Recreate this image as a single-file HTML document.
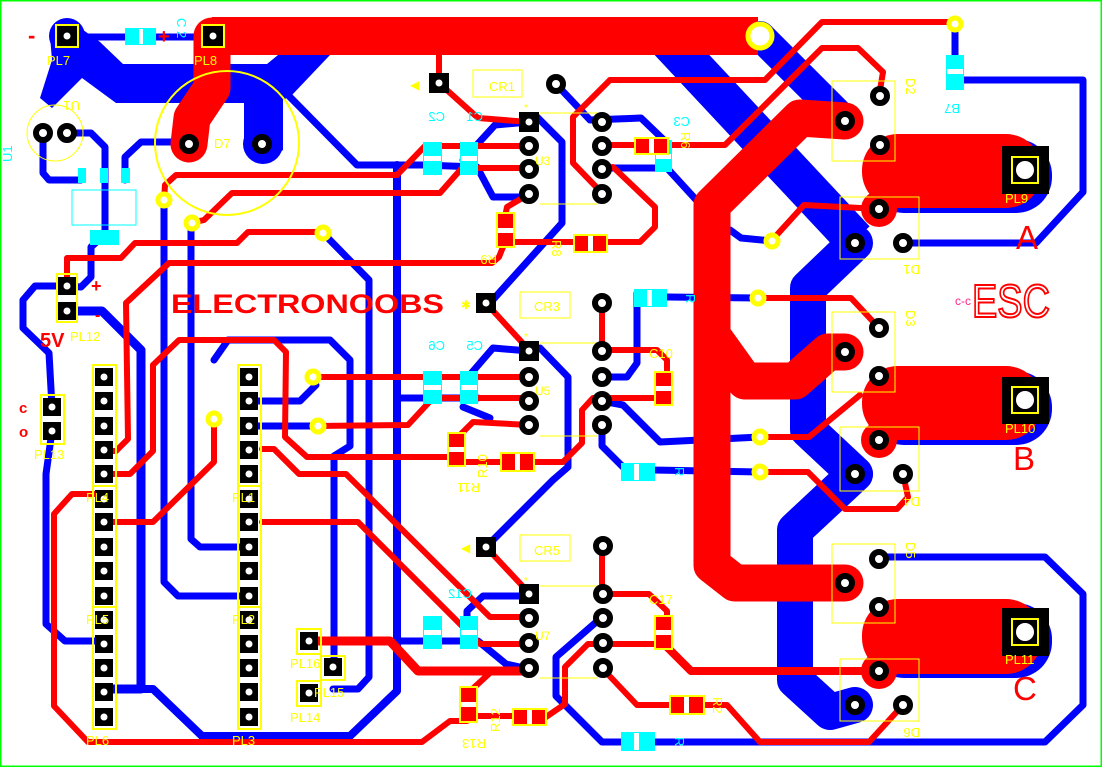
<!DOCTYPE html>
<html><head><meta charset="utf-8"><style>
html,body{margin:0;padding:0;background:#fff;}
svg{display:block;}
text{font-family:"Liberation Sans",sans-serif;}
</style></head><body>
<svg width="1102" height="767" viewBox="0 0 1102 767" xmlns="http://www.w3.org/2000/svg">
<defs>
<g id="rp"><circle r="7" fill="#fff" stroke="#000" stroke-width="6"/><circle r="3.5" fill="#fff"/></g>
<g id="sp"><rect x="-10" y="-10" width="20" height="20" fill="#000"/><circle r="3.5" fill="#fff"/></g>
<g id="hp"><rect x="-9" y="-9" width="18" height="18" fill="#000"/><circle r="3.5" fill="#fff"/></g>
</defs>
<rect x="0" y="0" width="1102" height="767" fill="#fff"/>
<rect x="0.5" y="0.5" width="1101" height="766" fill="none" stroke="#00ff00" stroke-width="2"/>

<!-- ===== BLUE LAYER ===== -->
<g fill="none" stroke="#0000ff" stroke-linejoin="round" stroke-linecap="round">
 <polyline points="668,40 855,240" stroke-width="40" stroke-linecap="butt"/>
 <polyline points="760,36 845,121" stroke-width="30"/>
 <polyline points="855,243 808,288 808,430 855,474" stroke-width="36"/>
 <polyline points="855,474 795,530 795,680 830,712 855,705" stroke-width="36"/>
 <rect x="868" y="139" width="184" height="74" rx="36" fill="#0000ff" stroke="none"/>
 <rect x="868" y="371" width="184" height="74" rx="36" fill="#0000ff" stroke="none"/>
 <rect x="868" y="603" width="184" height="75" rx="36" fill="#0000ff" stroke="none"/>
 <g stroke-width="7">
 <polyline points="67,37 213,37"/>
 <polyline points="288,95 357,165 423,165 477,167 493,197 529,197"/>
 <polyline points="397,165 397,691 350,736 202,736 153,689 104,689" stroke-width="8"/>
 <polyline points="323,233 369,280 369,677 358,689 333,689"/>
 <polyline points="214,360 228,340 330,340 350,360 350,446 334,456 334,667"/>
 <polyline points="191,223 191,539 200,547 249,547"/>
 <polyline points="164,200 164,582 178,596 249,596"/>
 <polyline points="52,431 46,474 46,624 65,641 104,641"/>
 <polyline points="67,311 102,311 141,350 141,689 104,689" stroke-width="9"/>
 <polyline points="67,286 35,286 23,300 23,328 49,353 52,407"/>
 <polyline points="67,286 81,287 91,277 91,247 102,237"/>
 <polyline points="43,133 43,173 49,180 81,180"/>
 <polyline points="67,133 91,133 105,147 105,233"/>
 <polyline points="125,180 125,157 141,142 190,142"/>
 <polyline points="556,84 590,120 641,118 667,143"/>
 <polyline points="602,168 667,168 699,203"/>
 <polyline points="730,230 741,238 772,241"/>
 <polyline points="529,122 537,117 562,142 562,223 490,303"/>
 <polyline points="529,122 495,125 463,160"/>
 <polyline points="529,351 493,348 468,377 468,398"/>
 <polyline points="399,398 478,398"/>
 <polyline points="463,407 490,418"/>
 <polyline points="540,348 568,377 568,467 553,480 486,547"/>
 <polyline points="667,297 758,298"/>
 <polyline points="637,293 637,363 627,377 602,377"/>
 <polyline points="602,401 623,405 660,442 760,437"/>
 <polyline points="602,426 602,446 623,467 653,470 760,472"/>
 <polyline points="529,596 483,596 467,611 467,624"/>
 <polyline points="397,641 478,641 506,664 529,669"/>
 <polyline points="602,617 556,657 556,696 602,742 1045,742 1083,705 1083,594 1045,557 879,557"/>
 <polyline points="955,24 955,80 1083,80 1083,192 1036,243 903,243"/>
 <polyline points="258,401 300,401 316,385"/>
 <polyline points="258,426 316,426"/>
 </g>
</g>
<polygon points="72,22 100,42 123,64 267,64 278,55 330,55 292,95 283,100 283,150 262,164 244,150 244,103 116,103 82,78 52,108 40,98 52,60 50,36" fill="#0000ff"/>
<circle cx="67" cy="36" r="18" fill="#0000ff"/>
<circle cx="263" cy="144" r="20" fill="#0000ff"/>

<!-- ===== RED LAYER ===== -->
<g fill="none" stroke="#ff0000" stroke-linejoin="round" stroke-linecap="round">
 <polyline points="212,36 758,36" stroke-width="38" stroke-linecap="butt"/>
 <polyline points="212,36 212,88 192,118 189,144" stroke-width="37"/>
 <polyline points="845,121 800,118 712,205 712,565 735,583 845,583" stroke-width="37"/>
 <polyline points="712,335 745,381 795,381 828,352 845,352" stroke-width="37"/>
 <rect x="862" y="134" width="180" height="74" rx="36" fill="#ff0000" stroke="none"/>
 <rect x="862" y="366" width="180" height="74" rx="36" fill="#ff0000" stroke="none"/>
 <rect x="862" y="599" width="180" height="75" rx="36" fill="#ff0000" stroke="none"/>
 <circle cx="879" cy="209" r="18" fill="#ff0000" stroke="none"/>
 <circle cx="879" cy="440" r="18" fill="#ff0000" stroke="none"/>
 <circle cx="879" cy="671" r="18" fill="#ff0000" stroke="none"/>
 <g stroke-width="6">
 <polyline points="439,55 439,83 478,118 529,122"/>
 <polyline points="529,146 425,146 397,175 176,175 165,185 164,200"/>
 <polyline points="529,168 462,168 440,193 232,193 204,220 191,223"/>
 <polyline points="529,194 507,207 505,217"/>
 <polyline points="505,242 499,257 492,263 169,263 126,303 128,439 116,451 104,451"/>
 <polyline points="505,242 574,242"/>
 <polyline points="607,242 640,242 655,227 655,207 613,167 602,169"/>
 <polyline points="602,145 725,145 822,48 858,48 883,72 879,96"/>
 <polyline points="610,80 680,80 765,80 822,22 955,22"/>
 <polyline points="610,80 573,117 573,163 602,193"/>
 <polyline points="879,209 804,205 774,238"/>
 <polyline points="758,298 851,298 879,328"/>
 <polyline points="602,303 602,350 657,350 667,360 667,372"/>
 <polyline points="602,398 657,398"/>
 <polyline points="602,398 593,398 582,410 582,443 563,462 535,462"/>
 <polyline points="769,437 809,437 860,395"/>
 <polyline points="769,472 808,472 845,509 897,509 908,497 903,474"/>
 <polyline points="602,546 602,594 649,594 667,611 667,617"/>
 <polyline points="667,647 691,671 879,671" stroke-width="8"/>
 <polyline points="602,644 655,644"/>
 <polyline points="602,644 588,644 565,667 565,704 546,717"/>
 <polyline points="602,668 637,705 670,705"/>
 <polyline points="704,705 727,705 760,742 869,742 903,705"/>
 <polyline points="67,286 67,258 121,258 135,243 237,243 248,232 323,232"/>
 <polyline points="153,365 179,340 274,340 286,352 285,437 307,457 448,457"/>
 <polyline points="153,365 153,451 130,474 104,474"/>
 <polyline points="465,462 501,462"/>
 <polyline points="262,449 274,449 299,474 346,474 490,617 529,617"/>
 <polyline points="262,522 358,522 480,644 529,644"/>
 <polyline points="104,522 153,522 214,462 214,419"/>
 <polyline points="316,426 408,425 433,398 529,398"/>
 <polyline points="529,425 473,422 460,435"/>
 <polyline points="313,377 529,377"/>
 <polyline points="309,641 390,641 418,671 529,671" stroke-width="9"/>
 <polyline points="529,671 492,671 467,694"/>
 <polyline points="477,716 513,716"/>
 <polyline points="467,721 450,721 422,742 88,742 54,706 54,514 72,494 104,494"/>
 <polyline points="486,303 529,350"/>
 <polyline points="486,547 529,593"/>
 </g>
</g>

<!-- ===== SMD parts ===== -->
<g fill="#00ffff">
 <rect x="125" y="28" width="31" height="17"/><rect x="946" y="55" width="18" height="35"/>
 <rect x="634" y="289" width="33" height="18"/><rect x="621" y="463" width="34" height="18"/><rect x="621" y="732" width="34" height="19"/>
 <rect x="423" y="142" width="19" height="33"/><rect x="460" y="142" width="18" height="33"/>
 <rect x="423" y="371" width="19" height="33"/><rect x="460" y="371" width="18" height="33"/>
 <rect x="423" y="616" width="19" height="33"/><rect x="460" y="616" width="18" height="33"/>
 <rect x="655" y="140" width="17" height="32"/>
 <rect x="90" y="230" width="29" height="15"/>
 <rect x="78" y="168" width="8" height="15"/><rect x="100" y="168" width="8" height="15"/><rect x="121" y="168" width="9" height="15"/>
</g>
<g fill="#fff">
 <rect x="139" y="29" width="4" height="15"/><rect x="947" y="69" width="16" height="5"/>
 <rect x="647" y="290" width="5" height="16"/><rect x="634" y="464" width="5" height="16"/><rect x="634" y="733" width="5" height="17"/>
 <rect x="424" y="156" width="17" height="5"/><rect x="461" y="156" width="16" height="5"/>
 <rect x="424" y="385" width="17" height="5"/><rect x="461" y="385" width="16" height="5"/>
 <rect x="424" y="630" width="17" height="5"/><rect x="461" y="630" width="16" height="5"/>
 <rect x="656" y="154" width="15" height="5"/>
</g>
<rect x="72" y="190" width="64" height="35" fill="none" stroke="#00ffff" stroke-width="1"/>
<g stroke="#ffff00" stroke-width="2" fill="#ff0000">
 <rect x="497" y="213" width="17" height="34"/><rect x="574" y="235" width="33" height="17"/>
 <rect x="635" y="138" width="33" height="16"/><rect x="655" y="372" width="17" height="33"/>
 <rect x="448" y="433" width="17" height="33"/><rect x="501" y="453" width="33" height="18"/>
 <rect x="655" y="616" width="17" height="33"/><rect x="460" y="687" width="17" height="35"/>
 <rect x="513" y="709" width="33" height="16"/><rect x="670" y="696" width="34" height="18"/>
</g>
<g fill="#fff">
 <rect x="498" y="228" width="15" height="5"/><rect x="588" y="236" width="5" height="15"/>
 <rect x="649" y="139" width="5" height="14"/><rect x="656" y="386" width="15" height="5"/>
 <rect x="449" y="447" width="15" height="5"/><rect x="515" y="454" width="5" height="16"/>
 <rect x="656" y="630" width="15" height="5"/><rect x="461" y="702" width="15" height="5"/>
 <rect x="527" y="710" width="5" height="14"/><rect x="684" y="697" width="5" height="16"/>
</g>

<!-- ===== SILKSCREEN ===== -->
<g fill="none" stroke="#ffff00">
 <circle cx="227" cy="143" r="72" stroke-width="2"/>
 <circle cx="55" cy="133" r="28" stroke-width="1"/>
 <rect x="832" y="81" width="63" height="80" stroke-width="1"/>
 <rect x="840" y="197" width="79" height="62" stroke-width="1"/>
 <rect x="832" y="312" width="63" height="80" stroke-width="1"/>
 <rect x="840" y="427" width="79" height="64" stroke-width="1"/>
 <rect x="832" y="544" width="63" height="79" stroke-width="1"/>
 <rect x="840" y="659" width="79" height="62" stroke-width="1"/>
 <rect x="473" y="70" width="49" height="27" stroke-width="1"/>
 <rect x="520" y="292" width="50" height="26" stroke-width="1"/>
 <rect x="520" y="535" width="50" height="26" stroke-width="1"/>
 <path d="M540 113H598M540 204H598M540 343H598M540 436H598M540 586H598M540 678H598" stroke-width="1"/>
 <rect x="57" y="274" width="20" height="48" stroke-width="2"/>
 <rect x="41" y="395" width="23" height="49" stroke-width="2"/>
 <rect x="93" y="365" width="23" height="121" stroke-width="2"/>
 <rect x="93" y="486" width="23" height="121" stroke-width="2"/>
 <rect x="93" y="607" width="23" height="122" stroke-width="2"/>
 <rect x="238" y="365" width="23" height="121" stroke-width="2"/>
 <rect x="238" y="486" width="23" height="121" stroke-width="2"/>
 <rect x="238" y="607" width="23" height="122" stroke-width="2"/>
 <rect x="297" y="629" width="24" height="25" stroke-width="2"/>
 <rect x="321" y="656" width="24" height="24" stroke-width="2"/>
 <rect x="297" y="681" width="24" height="25" stroke-width="2"/>
</g>
<g fill="#fff" stroke="#ffff00" stroke-width="5">
 <circle cx="760" cy="36" r="12"/>
 <circle cx="955" cy="24" r="6"/>
 <circle cx="164" cy="200" r="6"/><circle cx="192" cy="223" r="6"/><circle cx="323" cy="233" r="6"/>
 <circle cx="214" cy="419" r="6"/><circle cx="313" cy="377" r="6"/><circle cx="318" cy="426" r="6"/>
 <circle cx="772" cy="241" r="6"/><circle cx="758" cy="298" r="6"/><circle cx="760" cy="437" r="6"/><circle cx="760" cy="472" r="6"/>
</g>

<!-- ===== PADS ===== -->
<use href="#sp" x="67" y="36"/><use href="#sp" x="213" y="36"/>
<rect x="56" y="25" width="22" height="22" fill="none" stroke="#ffff00" stroke-width="2"/>
<rect x="202" y="25" width="22" height="22" fill="none" stroke="#ffff00" stroke-width="2"/>
<use href="#rp" x="189" y="144"/><use href="#rp" x="262" y="144"/>
<use href="#rp" x="43" y="133"/><use href="#rp" x="67" y="133"/>
<use href="#sp" x="439" y="83"/><use href="#sp" x="486" y="303"/><use href="#sp" x="486" y="547"/>
<use href="#sp" x="529" y="122"/><use href="#rp" x="529" y="146"/><use href="#rp" x="529" y="169"/><use href="#rp" x="529" y="194"/>
<use href="#rp" x="556" y="84"/>
<use href="#rp" x="602" y="122"/><use href="#rp" x="602" y="146"/><use href="#rp" x="602" y="169"/><use href="#rp" x="602" y="194"/>
<use href="#rp" x="602" y="303"/>
<use href="#sp" x="529" y="351"/><use href="#rp" x="529" y="377"/><use href="#rp" x="529" y="401"/><use href="#rp" x="529" y="425"/>
<use href="#rp" x="602" y="351"/><use href="#rp" x="602" y="377"/><use href="#rp" x="602" y="401"/><use href="#rp" x="602" y="425"/>
<use href="#rp" x="603" y="546"/>
<use href="#sp" x="529" y="594"/><use href="#rp" x="529" y="618"/><use href="#rp" x="529" y="643"/><use href="#rp" x="529" y="668"/>
<use href="#rp" x="603" y="594"/><use href="#rp" x="603" y="618"/><use href="#rp" x="603" y="643"/><use href="#rp" x="603" y="668"/>
<use href="#rp" x="845" y="121"/><use href="#rp" x="880" y="96"/><use href="#rp" x="880" y="145"/>
<use href="#rp" x="879" y="209"/><use href="#rp" x="855" y="243"/><use href="#rp" x="903" y="243"/>
<use href="#rp" x="879" y="328"/><use href="#rp" x="845" y="352"/><use href="#rp" x="879" y="376"/>
<use href="#rp" x="879" y="440"/><use href="#rp" x="855" y="474"/><use href="#rp" x="903" y="474"/>
<use href="#rp" x="879" y="559"/><use href="#rp" x="845" y="583"/><use href="#rp" x="879" y="607"/>
<use href="#rp" x="879" y="671"/><use href="#rp" x="855" y="705"/><use href="#rp" x="903" y="705"/>
<use href="#hp" x="67" y="286"/><use href="#hp" x="67" y="311"/>
<use href="#hp" x="52" y="407"/><use href="#hp" x="52" y="431"/>
<use href="#hp" x="309" y="641"/><use href="#hp" x="333" y="667"/><use href="#hp" x="309" y="693"/>
<g>
<use href="#hp" x="104" y="377"/><use href="#hp" x="104" y="401"/><use href="#hp" x="104" y="426"/><use href="#hp" x="104" y="450"/><use href="#hp" x="104" y="474"/>
<use href="#hp" x="104" y="499"/><use href="#hp" x="104" y="522"/><use href="#hp" x="104" y="547"/><use href="#hp" x="104" y="571"/><use href="#hp" x="104" y="596"/>
<use href="#hp" x="104" y="620"/><use href="#hp" x="104" y="644"/><use href="#hp" x="104" y="668"/><use href="#hp" x="104" y="692"/><use href="#hp" x="104" y="717"/>
<use href="#hp" x="249" y="377"/><use href="#hp" x="249" y="401"/><use href="#hp" x="249" y="426"/><use href="#hp" x="249" y="450"/><use href="#hp" x="249" y="474"/>
<use href="#hp" x="249" y="499"/><use href="#hp" x="249" y="522"/><use href="#hp" x="249" y="547"/><use href="#hp" x="249" y="571"/><use href="#hp" x="249" y="596"/>
<use href="#hp" x="249" y="620"/><use href="#hp" x="249" y="644"/><use href="#hp" x="249" y="668"/><use href="#hp" x="249" y="692"/><use href="#hp" x="249" y="717"/>
</g>
<g>
 <rect x="1002" y="146" width="47" height="48" fill="#000"/><rect x="1012" y="157" width="26" height="26" fill="none" stroke="#ffff00" stroke-width="2"/><circle cx="1025" cy="170" r="9" fill="#fff"/>
 <rect x="1002" y="377" width="47" height="47" fill="#000"/><rect x="1012" y="387" width="26" height="26" fill="none" stroke="#ffff00" stroke-width="2"/><circle cx="1025" cy="400" r="9" fill="#fff"/>
 <rect x="1002" y="608" width="47" height="48" fill="#000"/><rect x="1012" y="619" width="26" height="26" fill="none" stroke="#ffff00" stroke-width="2"/><circle cx="1025" cy="632" r="9" fill="#fff"/>
</g>

<!-- ===== TEXT ===== -->
<g fill="#ffff00" font-size="13">
 <text x="47" y="65">PL7</text><text x="194" y="65">PL8</text>
 <text x="214" y="148">D7</text>
 <text x="489" y="91">CR1</text><text x="534" y="311">CR3</text><text x="534" y="555">CR5</text>
 <text x="535" y="165" font-size="12">U3</text><text x="535" y="395" font-size="12">U5</text><text x="535" y="640" font-size="12">U7</text>
 <text x="524" y="111" font-size="10">*</text><text x="524" y="340" font-size="10">*</text><text x="524" y="584" font-size="10">*</text>
 <text x="1005" y="203">PL9</text><text x="1005" y="433">PL10</text><text x="1005" y="664">PL11</text>
 <text x="34" y="459">PL13</text><text x="70" y="341">PL12</text>
 <text x="86" y="502">PL4</text><text x="86" y="624">PL5</text><text x="86" y="745">PL6</text>
 <text x="232" y="502">PL1</text><text x="232" y="624">PL2</text><text x="232" y="745">PL3</text>
 <text x="290" y="668">PL16</text><text x="314" y="697">PL15</text><text x="290" y="722">PL14</text>
 <text x="649" y="358">C10</text><text x="649" y="604">C17</text>
 <text transform="translate(906,78) rotate(90)">D2</text>
 <text transform="translate(920,265) rotate(180)">D1</text>
 <text transform="translate(906,310) rotate(90)">D3</text>
 <text transform="translate(920,497) rotate(180)">D4</text>
 <text transform="translate(906,542) rotate(90)">D5</text>
 <text transform="translate(920,728) rotate(180)">D6</text>
 <text transform="translate(497,255) rotate(180)">R9</text>
 <text transform="translate(552,240) rotate(90)">R8</text>
 <text transform="translate(681,132) rotate(90)">R6</text>
 <text transform="translate(480,483) rotate(180)">R11</text>
 <text transform="translate(487,478) rotate(-90)">R10</text>
 <text transform="translate(500,732) rotate(-90)">R12</text>
 <text transform="translate(486,739) rotate(180)">R13</text>
 <text transform="translate(713,697) rotate(90)">R2</text>
 <text transform="translate(80,101) rotate(180)">U1</text>
</g>
<g fill="#00ffff" font-size="13">
 <text transform="translate(445,121) scale(-1,1)">C2</text>
 <text transform="translate(483,121) scale(-1,1)">C1</text>
 <text transform="translate(445,350) scale(-1,1)">C6</text>
 <text transform="translate(483,350) scale(-1,1)">C5</text>
 <text transform="translate(472,598) scale(-1,1)">C12</text>
 <text transform="translate(690,126) scale(-1,1)">C3</text>
 <text transform="translate(177,18) rotate(90)">C 2</text>
 <text transform="translate(960,104) rotate(180)">B7</text>
 <text transform="translate(12,162) rotate(-90)">U1</text>
 <text transform="translate(686,294) rotate(90)">R</text>
 <text transform="translate(675,467) rotate(90)">R</text>
 <text transform="translate(675,737) rotate(90)">R</text>
</g>
<g fill="#ff0000">
 <text x="171" y="313" font-size="27" font-weight="bold" textLength="273" lengthAdjust="spacingAndGlyphs">ELECTRONOOBS</text>
 <text x="1016" y="249" font-size="33">A</text>
 <text x="1013" y="470" font-size="33">B</text>
 <text x="1013" y="700" font-size="33">C</text>
 <text x="972" y="317" font-size="46" fill="none" stroke="#ff0000" stroke-width="2" textLength="78" lengthAdjust="spacingAndGlyphs">ESC</text>
 <text x="955" y="305" font-size="12" fill="#ff2288">c-c</text>
 <text x="28" y="43" font-size="22" font-weight="bold">-</text>
 <text x="158" y="43" font-size="20" font-weight="bold">+</text>
 <text x="91" y="292" font-size="18" font-weight="bold">+</text>
 <text x="95" y="320" font-size="16" font-weight="bold">-</text>
 <text x="40" y="347" font-size="20" font-weight="bold">5V</text>
 <text x="19" y="413" font-size="15" font-weight="bold">c</text>
 <text x="19" y="437" font-size="15" font-weight="bold">o</text>
</g>
<g fill="#ffff00" font-size="12"><text x="410" y="89">◀</text><text x="461" y="309">✱</text><text x="461" y="552">◀</text></g>
</svg>
</body></html>
